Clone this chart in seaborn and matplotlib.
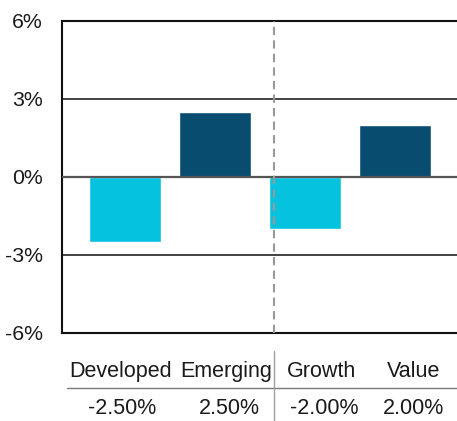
import matplotlib
matplotlib.use("Agg")
import matplotlib.pyplot as plt
import seaborn as sns
import pandas as pd

categories = ["Developed", "Emerging", "Growth", "Value"]
values = [-2.5, 2.5, -2.0, 2.0]
value_labels = ["-2.50%", "2.50%", "-2.00%", "2.00%"]
colors = ["#05C3DE", "#084C70", "#05C3DE", "#084C70"]
yticks = [-6, -3, 0, 3, 6]
ytick_labels = ["-6%", "-3%", "0%", "3%", "6%"]

sns.set_theme(style="white")
plt.rcParams["font.family"] = ["Liberation Sans", "DejaVu Sans"]

W, H = 457, 421
fig = plt.figure(figsize=(W / 100, H / 100), dpi=100)

def fx(x):
    return x / W

def fy(y):
    return 1 - y / H

# plot axes: x 62..458, y 20.5..333
ax = fig.add_axes([fx(62), fy(333), fx(458) - fx(62), fy(20.5) - fy(333)])
df = pd.DataFrame({"cat": categories, "val": values})
sns.barplot(data=df, x="cat", y="val", hue="cat", palette=colors, legend=False,
            width=0.8, ax=ax, saturation=1)
ax.set_xlim(-0.7, 3.7)
ax.set_ylim(-6, 6)
ax.set_yticks(yticks)
ax.set_yticklabels(ytick_labels, fontsize=15.3, color="#1a1a1a")
ax.tick_params(axis="y", length=0, pad=14)
ax.set_xticks([])
ax.set_xlabel("")
ax.set_ylabel("")
ax.spines["right"].set_visible(False)
for s in ["left", "top", "bottom"]:
    ax.spines[s].set_color("#111111")
    ax.spines[s].set_linewidth(1.5)
for y in [3, -3]:
    ax.axhline(y, color="#222222", lw=1.2, zorder=0)
ax.axhline(0, color="#555555", lw=1.6, zorder=3)
ax.axvline(1.656, color="#999999", lw=1.5, linestyle=(0, (4, 2.5)), zorder=4)

# table below
fig.add_artist(plt.Line2D([fx(67), 1.0], [fy(388.3), fy(388.3)], color="#7a7a7a", lw=1.0))
fig.add_artist(plt.Line2D([fx(274), fx(274)], [fy(350.5), 0], color="#a0a0a0", lw=1.0))
label_x = [121, 226, 321, 414]
val_x = [122, 229, 324, 414]
for c, lx in zip(categories, label_x):
    fig.text(fx(lx), fy(371.5), c, ha="center", va="center", fontsize=15.5, color="#1a1a1a")
for v, vx in zip(value_labels, val_x):
    fig.text(fx(vx), fy(408), v, ha="center", va="center", fontsize=15.5, color="#1a1a1a")

fig.savefig("out.png", dpi=100)
